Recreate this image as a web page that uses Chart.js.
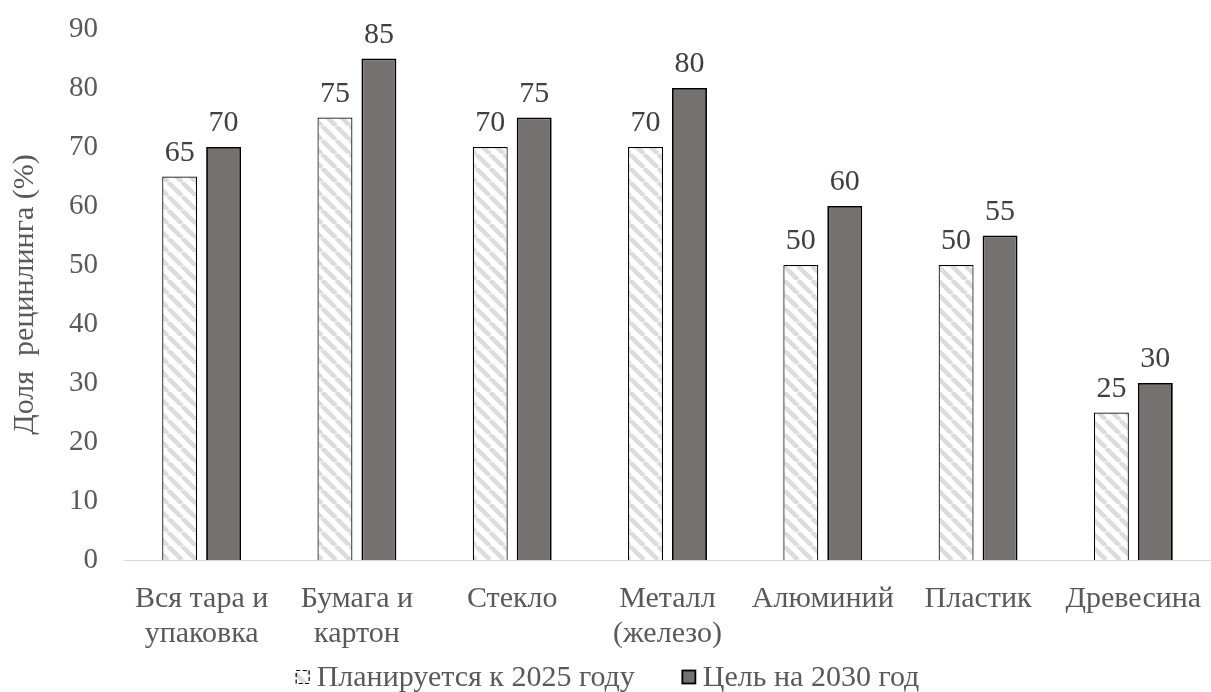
<!DOCTYPE html>
<html>
<head>
<meta charset="utf-8">
<script src="https://cdn.jsdelivr.net/npm/chart.js@4"></script>
<style>
  html, body { margin: 0; padding: 0; background: #ffffff; }
  #wrap { width: 1211px; height: 692px; }
</style>
</head>
<body>
<div id="wrap"><canvas id="c" width="1211" height="692"></canvas></div>
<script>
// Recycling targets for packaging materials
const categories = [
  ['Вся тара и', 'упаковка'],
  ['Бумага и', 'картон'],
  ['Стекло'],
  ['Металл', '(железо)'],
  ['Алюминий'],
  ['Пластик'],
  ['Древесина']
];
const plan2025 = [65, 75, 70, 70, 50, 50, 25];
const target2030 = [70, 85, 75, 80, 60, 55, 30];
const seriesNames = ['Планируется к 2025 году', 'Цель на 2030 год'];
const yTicks = [0, 10, 20, 30, 40, 50, 60, 70, 80, 90];
const yTitle = 'Доля  рецинлинга (%)';

const FONT = '"Liberation Serif", "Times New Roman", serif';
const TEXT = '#595959';

// light diagonal hatch for the 2025 series
function makeHatch() {
  const s = 14;
  const p = document.createElement('canvas');
  p.width = s; p.height = s;
  const g = p.getContext('2d');
  g.fillStyle = '#ffffff';
  g.fillRect(0, 0, s, s);
  g.strokeStyle = '#dcdcdc';
  g.lineWidth = 4.5;
  g.beginPath();
  for (const k of [-s, 0, s]) {
    g.moveTo(k, 0);
    g.lineTo(k + s, s);
  }
  g.stroke();
  return document.getElementById('c').getContext('2d').createPattern(p, 'repeat');
}

// value labels above each bar
const valueLabels = {
  id: 'valueLabels',
  afterDatasetsDraw(chart) {
    const ctx = chart.ctx;
    ctx.save();
    ctx.font = '30px ' + FONT;
    ctx.fillStyle = '#404040';
    ctx.textAlign = 'center';
    ctx.textBaseline = 'alphabetic';
    chart.data.datasets.forEach((ds, di) => {
      const meta = chart.getDatasetMeta(di);
      meta.data.forEach((bar, i) => {
        ctx.fillText(String(ds.data[i]), bar.x, bar.y - 16);
      });
    });
    ctx.restore();
  }
};

// legend row under the category labels, built from the dataset styles
const bottomLegend = {
  id: 'bottomLegend',
  afterDraw(chart) {
    const ctx = chart.ctx;
    const box = 14, gap = 7, spacing = 47, cy = 677;
    ctx.save();
    ctx.font = '30px ' + FONT;
    const items = chart.data.datasets.map(ds => ({ ds, w: box + gap + ctx.measureText(ds.label).width }));
    const total = items.reduce((a, it) => a + it.w, 0) + spacing * (items.length - 1);
    let x = chart.width / 2 - total / 2 + 2;
    items.forEach(({ ds, w }) => {
      const top = cy - box / 2;
      ctx.fillStyle = ds.backgroundColor;
      ctx.fillRect(x, top, box, box);
      ctx.setLineDash(ds.borderDash || []);
      ctx.lineWidth = ds.borderWidth;
      ctx.strokeStyle = ds.borderColor;
      ctx.strokeRect(x + 0.5, top + 0.5, box - 1, box - 1);
      ctx.setLineDash([]);
      ctx.fillStyle = TEXT;
      ctx.textAlign = 'left';
      ctx.textBaseline = 'middle';
      ctx.fillText(ds.label, x + box + gap, cy + 1);
      x += w + spacing;
    });
    ctx.restore();
  }
};

new Chart(document.getElementById('c'), {
  type: 'bar',
  data: {
    labels: categories,
    datasets: [
      {
        label: seriesNames[0],
        data: plan2025,
        backgroundColor: makeHatch(),
        borderColor: '#000000',
        borderWidth: 1.2,
        borderDash: [4, 2.5],
        categoryPercentage: 0.566,
        barPercentage: 0.795
      },
      {
        label: seriesNames[1],
        data: target2030,
        backgroundColor: '#767171',
        borderColor: '#000000',
        borderWidth: 1.8,
        categoryPercentage: 0.566,
        barPercentage: 0.795
      }
    ]
  },
  options: {
    responsive: false,
    animation: false,
    layout: { padding: { top: 29, right: 0, bottom: 0, left: 0 } },
    plugins: {
      legend: { display: false },
      tooltip: { enabled: false }
    },
    scales: {
      x: {
        grid: { display: false, drawTicks: false },
        border: { display: true, color: '#d9d9d9', width: 1 },
        ticks: {
          font: { family: FONT, size: 30, lineHeight: 1.15 },
          color: TEXT,
          padding: 22,
          maxRotation: 0,
          autoSkip: false
        },
        afterFit(scale) {
          scale.height = 132;
          scale.paddingLeft = 0;
          scale.paddingRight = 0;
        }
      },
      y: {
        min: 0,
        max: 90,
        afterBuildTicks(scale) { scale.ticks = yTicks.map(v => ({ value: v })); },
        grid: { display: false, drawTicks: false },
        border: { display: false },
        ticks: {
          font: { family: FONT, size: 29 },
          color: TEXT,
          padding: 26
        },
        title: {
          display: true,
          text: yTitle,
          font: { family: FONT, size: 30, lineHeight: 1.7 },
          color: TEXT,
          padding: 0
        },
        afterFit(scale) {
          scale.width = 124;
          scale.paddingTop = 0;
          scale.paddingBottom = 0;
        }
      }
    }
  },
  plugins: [valueLabels, bottomLegend]
});
</script>
</body>
</html>
